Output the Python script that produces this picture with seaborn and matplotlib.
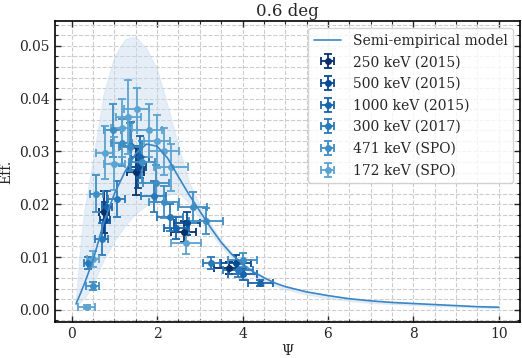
import numpy as np
import matplotlib
matplotlib.use("Agg")
import matplotlib.pyplot as plt
import seaborn as sns
from matplotlib.ticker import MultipleLocator

# ---- model ----
model_psi = [0.1, 0.2, 0.3, 0.5, 0.75, 1.0, 1.25, 1.5, 1.75, 2.0, 2.25, 2.5, 2.75, 3.0,
             3.25, 3.5, 3.75, 4.0, 4.25, 4.5, 4.75, 5.0, 5.5, 6.0, 6.5, 7.0, 7.5, 8.0, 8.5,
             9.0, 9.5, 10.0]
model_eff = [0.0011, 0.0030, 0.0050, 0.0094, 0.0165, 0.0220, 0.0262, 0.0296, 0.0314, 0.0310,
             0.0287, 0.0252, 0.0218, 0.0187, 0.0156, 0.0128, 0.0105, 0.0087, 0.0072, 0.0061,
             0.0051, 0.0044, 0.0034, 0.0027, 0.0021, 0.0017, 0.0014, 0.0012, 0.0010, 0.0008,
             0.0006, 0.0005]
band_low = [0.0008, 0.0015, 0.0022, 0.0048, 0.0095, 0.0130, 0.0160, 0.0183, 0.0198, 0.0208,
            0.0218, 0.0222, 0.0203, 0.0174, 0.0146, 0.0120, 0.0098, 0.0081, 0.0066, 0.0055,
            0.0046, 0.0039, 0.0029, 0.0022, 0.0017, 0.0013, 0.0011, 0.0009, 0.0007, 0.0006,
            0.0004, 0.0003]
band_high = [0.0020, 0.0120, 0.0190, 0.0285, 0.0410, 0.0480, 0.0513, 0.0517, 0.0495, 0.0455,
             0.0385, 0.0310, 0.0242, 0.0198, 0.0163, 0.0132, 0.0108, 0.0090, 0.0074, 0.0063,
             0.0053, 0.0045, 0.0035, 0.0028, 0.0022, 0.0018, 0.0015, 0.0012, 0.0010, 0.0008,
             0.0007, 0.0005]

# ---- measurements ----
labels = ["250 keV (2015)", "500 keV (2015)", "1000 keV (2015)",
          "300 keV (2017)", "471 keV (SPO)", "172 keV (SPO)"]

psi_250 = [0.75, 1.50, 2.62, 3.68]
eff_250 = [0.0185, 0.0262, 0.0148, 0.0079]
xerr_250 = [0.12, 0.20, 0.30, 0.35]
yerr_250 = [0.0040, 0.0045, 0.0020, 0.0012]

psi_500 = [0.78, 1.55, 2.70, 3.85]
eff_500 = [0.0170, 0.0270, 0.0164, 0.0089]
xerr_500 = [0.12, 0.20, 0.30, 0.35]
yerr_500 = [0.0035, 0.0040, 0.0022, 0.0014]

psi_1000 = [0.82, 1.60, 2.45, 4.00, 4.42]
eff_1000 = [0.0195, 0.0290, 0.0155, 0.0068, 0.0051]
xerr_1000 = [0.12, 0.20, 0.30, 0.35, 0.30]
yerr_1000 = [0.0030, 0.0040, 0.0020, 0.0012, 0.0006]

psi_300 = [0.38, 0.70, 1.05, 1.40, 1.92, 2.30, 3.27, 3.90]
eff_300 = [0.0089, 0.0134, 0.0210, 0.0310, 0.0215, 0.0175, 0.0089, 0.0075]
xerr_300 = [0.10, 0.15, 0.20, 0.25, 0.30, 0.30, 0.20, 0.35]
yerr_300 = [0.0012, 0.0030, 0.0035, 0.0045, 0.0030, 0.0025, 0.0012, 0.0012]

psi_471 = [0.49, 0.58, 0.96, 1.17, 1.36, 1.65, 1.98, 2.17, 2.83, 3.15, 4.00]
eff_471 = [0.0045, 0.0220, 0.0340, 0.0317, 0.0308, 0.0280, 0.0240, 0.0204, 0.0194, 0.0168, 0.0094]
xerr_471 = [0.15, 0.15, 0.20, 0.25, 0.25, 0.30, 0.30, 0.35, 0.35, 0.40, 0.35]
yerr_471 = [0.0008, 0.0035, 0.0050, 0.0045, 0.0045, 0.0040, 0.0035, 0.0030, 0.0030, 0.0025, 0.0013]

psi_172 = [0.35, 0.50, 0.77, 1.00, 1.17, 1.33, 1.52, 1.82, 2.00, 2.17, 2.33, 2.68]
eff_172 = [0.0006, 0.0096, 0.0298, 0.0277, 0.0345, 0.0365, 0.0380, 0.0340, 0.0319, 0.0300, 0.0270, 0.0126]
xerr_172 = [0.20, 0.15, 0.20, 0.25, 0.25, 0.30, 0.30, 0.30, 0.30, 0.35, 0.40, 0.35]
yerr_172 = [0.0004, 0.0015, 0.0050, 0.0050, 0.0055, 0.0070, 0.0040, 0.0050, 0.0050, 0.0045, 0.0045, 0.0020]

series = [
    (psi_250, eff_250, xerr_250, yerr_250),
    (psi_500, eff_500, xerr_500, yerr_500),
    (psi_1000, eff_1000, xerr_1000, yerr_1000),
    (psi_300, eff_300, xerr_300, yerr_300),
    (psi_471, eff_471, xerr_471, yerr_471),
    (psi_172, eff_172, xerr_172, yerr_172),
]

sns.set_theme(style="ticks")
plt.rcParams['font.family'] = ['DejaVu Serif']
plt.rcParams['mathtext.fontset'] = 'dejavuserif'

fig = plt.figure(figsize=(5.22, 3.58), dpi=100)
ax = fig.add_axes([0.105, 0.1006, 0.891, 0.8405])

model_color = "#3a86c4"
ax.fill_between(model_psi, band_low, band_high, color="#c6dbef", alpha=0.45, linewidth=0.8,
                edgecolor="#c6dbef", zorder=1)
sns.lineplot(x=model_psi, y=model_eff, ax=ax, color=model_color, linewidth=1.2,
             label="Semi-empirical model", zorder=5)

colors = [plt.cm.Blues(v) for v in [1.0, 0.9, 0.8, 0.72, 0.64, 0.55]]
for (px, py, xe, ye), lab, c in zip(series, labels, colors):
    ax.errorbar(px, py, xerr=xe, yerr=ye, fmt='o', color=c, markersize=4,
                elinewidth=1.3, capsize=3, capthick=1.3, label=lab, zorder=3)

ax.set_xlim(-0.395, 10.495)
ax.set_ylim(-0.0023, 0.0547)
ax.xaxis.set_major_locator(MultipleLocator(2))
ax.xaxis.set_minor_locator(MultipleLocator(0.5))
ax.yaxis.set_major_locator(MultipleLocator(0.01))
ax.yaxis.set_minor_locator(MultipleLocator(0.002))
ax.yaxis.set_major_formatter(matplotlib.ticker.FormatStrFormatter('%.2f'))
ax.tick_params(which='both', direction='in', top=True, right=True, labelsize=10)
ax.tick_params(which='major', length=4, width=1)
ax.tick_params(which='minor', length=2.5, width=0.8)
ax.grid(which='both', linestyle='--', color='#cccccc', linewidth=0.8)
ax.set_axisbelow(True)
for s in ax.spines.values():
    s.set_linewidth(1.2)
    s.set_color('black')

ax.set_xlabel("Ψ", fontsize=10, labelpad=2)
ax.set_ylabel("Eff.", fontsize=10)
ax.set_title("0.6 deg", fontsize=12, pad=4)

leg = ax.legend(loc='upper right', fontsize=10, frameon=True, fancybox=True,
                handlelength=2, borderpad=0.4, labelspacing=0.55)
leg.get_frame().set_edgecolor('#cccccc')

fig.savefig("out.png", dpi=100)
